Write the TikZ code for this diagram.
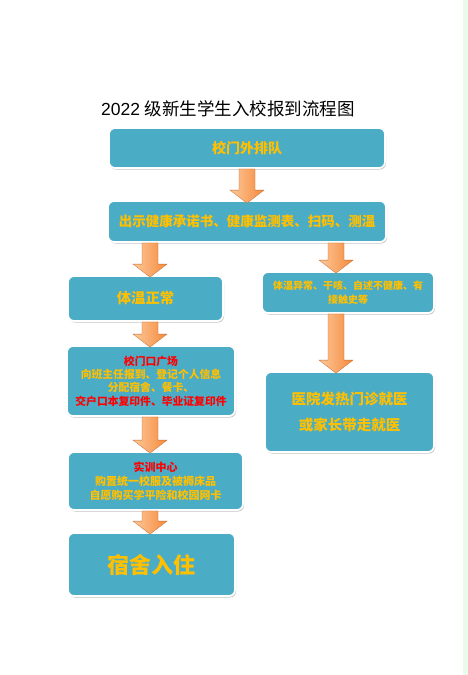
\documentclass[tikz,border=0pt]{standalone}
\usepackage{fontspec}
\setmainfont{Liberation Sans}
\newfontfamily\cjk{Noto Sans CJK SC}
\usetikzlibrary{shadows,calc}
\definecolor{boxblue}{HTML}{4BACC6}
\definecolor{txtgold}{HTML}{FFC000}
\definecolor{txtred}{HTML}{FF0000}
\definecolor{arrlight}{HTML}{FCC89A}
\definecolor{arrdark}{HTML}{F68A3C}
\definecolor{edgegreen}{HTML}{EAFBEA}
% block arrow from #1 (top) to #2 (tip)
\newcommand\flowarrow[2]{%
  \path[shade, left color=arrlight, right color=arrdark, draw=arrdark!80!black, line width=0.3pt]
    let \p1=#1, \p2=#2 in
    (\x1-8pt,\y1) -- (\x1+8pt,\y1) -- (\x1+8pt,\y2+13pt) -- (\x1+17pt,\y2+13pt)
    -- (\x1,\y2) -- (\x1-17pt,\y2+13pt) -- (\x1-8pt,\y2+13pt) -- cycle;}
\begin{document}
\begin{tikzpicture}[x=1pt, y=-1pt,
    box/.style={draw=white, line width=1.8pt, fill=boxblue, rounded corners=6pt,
      drop shadow={shadow xshift=1pt, shadow yshift=-1.5pt, opacity=0.5, fill=black!45},
      align=center, text=txtgold, font=\cjk\bfseries, inner sep=2pt},
    fs/.style={font=\cjk\bfseries\fontsize{#1}{#1}\selectfont}]
    \useasboundingbox[fill=white] (0,0) rectangle (468,675);
    \fill[edgegreen] (463,0) rectangle (468,675);
    \node (title) at (228,109) {\fontsize{17.5}{19}\selectfont 2022 {\cjk 级新生学生入校报到流程图}};
    % boxes
    \node[box, fs=14, minimum width=276, minimum height=40] (queue) at (247,148) {校门外排队};
    \node[box, fs=13.5, minimum width=278, minimum height=41] (check) at (247,221.5) {出示健康承诺书、健康监测表、扫码、测温};
    \node[box, fs=14.3, minimum width=155, minimum height=45] (normal) at (145.5,298.5) {体温正常};
    \node[box, fs=10, minimum width=172, minimum height=41] (fever) at (348,292.5) {体温异常、干咳、自述不健康、有\\[4pt]接触史等};
    \node[box, fs=10.8, minimum width=168, minimum height=70] (square) at (151,381) {%
      \textcolor{txtred}{校门口广场}\\[2.6pt]
      向班主任报到、登记个人信息\\[2.6pt]
      分配宿舍、餐卡、\\[2.6pt]
      \textcolor{txtred}{交户口本复印件、毕业证复印件}};
    \node[box, fs=11, minimum width=175, minimum height=58] (training) at (155.5,481) {%
      \textcolor{txtred}{实训中心}\\[3pt]
      购置统一校服及被褥床品\\[3pt]
      自愿购买学平险和校园网卡};
    \node[box, fs=22, minimum width=167, minimum height=63] (dorm) at (151.5,564.5) {宿舍入住};
    \node[box, fs=14.5, minimum width=169, minimum height=80] (hospital) at (349.5,412) {医院发热门诊就医\\[12pt]或家长带走就医};
    % arrows
    \coordinate (laneL) at (150,0);
    \coordinate (laneR) at (336,0);
    \flowarrow{(queue.south)}{($(check.north)+(0,3)$)}
    \flowarrow{(check.south -| laneL)}{($(normal.north -| laneL)+(0,2)$)}
    \flowarrow{(check.south -| laneR)}{($(fever.north -| laneR)+(0,2)$)}
    \flowarrow{(normal.south -| laneL)}{($(square.north -| laneL)+(0,2)$)}
    \flowarrow{(fever.south -| laneR)}{($(hospital.north -| laneR)+(0,2)$)}
    \flowarrow{(square.south -| laneL)}{($(training.north -| laneL)+(0,2)$)}
    \flowarrow{(training.south -| laneL)}{($(dorm.north -| laneL)+(0,2)$)}
\end{tikzpicture}
\end{document}
